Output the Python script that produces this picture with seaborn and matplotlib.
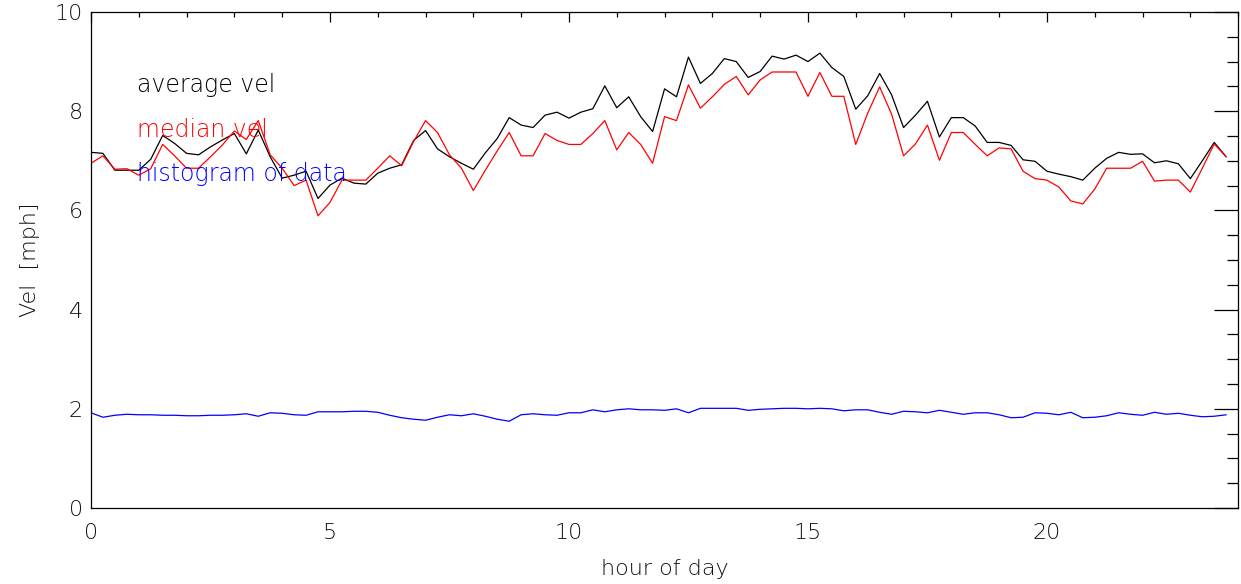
import numpy as np
import pandas as pd
import matplotlib
matplotlib.use("Agg")
import matplotlib.pyplot as plt
from matplotlib.ticker import MultipleLocator
import seaborn as sns

# hour of day, every 15 minutes
hours = np.arange(96) * 0.25

avg_vel = [7.17, 7.15, 6.81, 6.81, 6.81, 7.03, 7.51, 7.35, 7.15, 7.12,
           7.28, 7.42, 7.55, 7.14, 7.62, 7.08, 6.65, 6.71, 6.79, 6.24,
           6.51, 6.65, 6.55, 6.53, 6.75, 6.85, 6.92, 7.41, 7.61, 7.24,
           7.08, 6.95, 6.83, 7.16, 7.45, 7.87, 7.72, 7.67, 7.92, 7.98,
           7.86, 7.98, 8.05, 8.51, 8.07, 8.29, 7.89, 7.59, 8.45, 8.29,
           9.09, 8.56, 8.76, 9.06, 9.00, 8.68, 8.80, 9.11, 9.05, 9.13,
           9.00, 9.17, 8.88, 8.70, 8.04, 8.31, 8.76, 8.33, 7.67, 7.92,
           8.20, 7.48, 7.87, 7.87, 7.70, 7.37, 7.37, 7.31, 7.02, 6.99,
           6.79, 6.73, 6.68, 6.61, 6.85, 7.05, 7.17, 7.13, 7.14, 6.96,
           7.00, 6.94, 6.64, 7.00, 7.37, 7.08]

median_vel = [6.95, 7.10, 6.83, 6.84, 6.71, 6.84, 7.33, 7.10, 6.85, 6.85,
              7.08, 7.32, 7.60, 7.43, 7.81, 7.12, 6.85, 6.50, 6.61, 5.89,
              6.16, 6.61, 6.61, 6.61, 6.85, 7.10, 6.90, 7.39, 7.81, 7.57,
              7.12, 6.85, 6.40, 6.81, 7.20, 7.57, 7.10, 7.10, 7.55, 7.41,
              7.33, 7.33, 7.55, 7.81, 7.22, 7.57, 7.33, 6.95, 7.89, 7.81,
              8.53, 8.06, 8.29, 8.54, 8.70, 8.33, 8.63, 8.79, 8.79, 8.79,
              8.30, 8.78, 8.30, 8.30, 7.33, 7.96, 8.49, 7.94, 7.10, 7.34,
              7.72, 7.01, 7.57, 7.57, 7.33, 7.10, 7.26, 7.24, 6.79, 6.64,
              6.61, 6.47, 6.19, 6.13, 6.43, 6.85, 6.85, 6.85, 6.99, 6.59,
              6.61, 6.61, 6.37, 6.85, 7.34, 7.08]

hist_data = [1.92, 1.83, 1.87, 1.89, 1.88, 1.88, 1.87, 1.87, 1.86, 1.86,
             1.87, 1.87, 1.88, 1.90, 1.85, 1.92, 1.91, 1.88, 1.87, 1.94,
             1.94, 1.94, 1.95, 1.95, 1.93, 1.87, 1.82, 1.79, 1.77, 1.83,
             1.88, 1.86, 1.90, 1.85, 1.79, 1.75, 1.88, 1.90, 1.88, 1.87,
             1.92, 1.92, 1.98, 1.94, 1.98, 2.00, 1.98, 1.98, 1.97, 2.00,
             1.92, 2.01, 2.01, 2.01, 2.01, 1.97, 1.99, 2.00, 2.01, 2.01,
             2.00, 2.01, 2.00, 1.96, 1.98, 1.98, 1.93, 1.89, 1.95, 1.94,
             1.92, 1.97, 1.93, 1.89, 1.92, 1.92, 1.88, 1.82, 1.83, 1.92,
             1.91, 1.88, 1.93, 1.82, 1.83, 1.86, 1.92, 1.89, 1.87, 1.93,
             1.89, 1.91, 1.87, 1.84, 1.85, 1.88]

df = pd.DataFrame({"hour": hours, "avg": avg_vel, "median": median_vel, "hist": hist_data})

sns.set_style("white")
plt.rcParams["font.family"] = ["DejaVu Sans"]
plt.rcParams["font.weight"] = "light"
plt.rcParams["axes.labelweight"] = "light"

fig = plt.figure(figsize=(12.41, 5.84), dpi=100)
ax = fig.add_axes([0.0733, 0.1301, 0.9244, 0.8494])

sns.lineplot(data=df, x="hour", y="avg", color="black", lw=0.9, ax=ax)
sns.lineplot(data=df, x="hour", y="median", color="red", lw=0.9, ax=ax)
sns.lineplot(data=df, x="hour", y="hist", color="blue", lw=0.9, ax=ax)

ax.set_xlim(0, 24)
ax.set_ylim(0, 10)
ax.xaxis.set_major_locator(MultipleLocator(5))
ax.xaxis.set_minor_locator(MultipleLocator(1))
ax.yaxis.set_major_locator(MultipleLocator(2))
ax.yaxis.set_minor_locator(MultipleLocator(0.5))

ax.tick_params(which="both", direction="in", top=True, right=True, color="black", width=0.9)
ax.tick_params(axis="x", which="major", length=7.2, pad=11, labelsize=16, labelcolor="#111111")
ax.tick_params(axis="x", which="minor", length=3.6)
ax.tick_params(axis="y", which="major", length=17.3, pad=6, labelsize=16, labelcolor="#111111")
ax.tick_params(axis="y", which="minor", length=8)
for s in ax.spines.values():
    s.set_color("black")
    s.set_linewidth(0.9)

ax.set_xlabel("hour of day", fontsize=16, color="#111111", fontweight="light", labelpad=11)
ax.set_ylabel("Vel  [mph]", fontsize=16, color="#111111", fontweight="light", labelpad=10)

# legend-like labels, IDL style
ax.text(0.97, 8.39, "average vel", color="black", fontsize=17)
ax.text(0.97, 7.48, "median vel", color="red", fontsize=17)
ax.text(0.97, 6.59, "histogram of data", color="blue", fontsize=17)

fig.savefig("out.png", dpi=100)
